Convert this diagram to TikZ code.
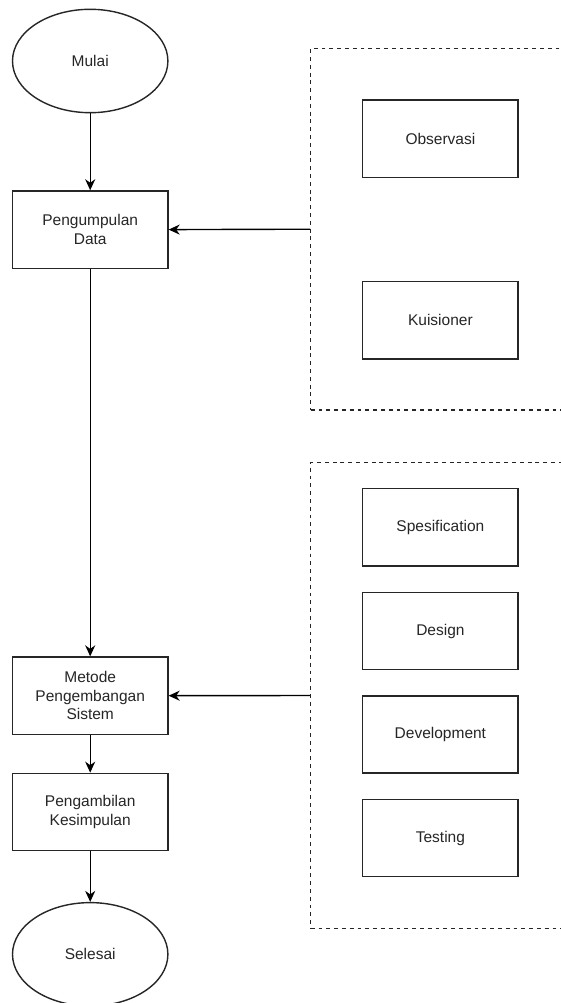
\documentclass[tikz,border=0pt]{standalone}
\usepackage{fontspec}
\setmainfont{Liberation Sans}
\usetikzlibrary{shapes.geometric,arrows.meta}
\begin{document}
\begin{tikzpicture}[x=1pt,y=-1pt,
  every node/.style={font=\fontsize{15.5}{18.6}\selectfont, text=black!85, align=center, inner sep=0pt},
  proc/.style={draw=black!85, line width=1.4pt, rectangle, minimum width=155.5pt, minimum height=77.3pt},
  term/.style={draw=black!85, line width=1.4pt, ellipse, minimum width=155.4pt, minimum height=103.4pt},
  grp/.style={draw=black!85, line width=1.4pt, rectangle, dash pattern=on 3.9pt off 3.9pt, minimum width=259.4pt},
  conn/.style={draw=black, line width=1.4pt, -{Stealth[length=11pt,width=10pt,inset=3.5pt]}}
]
\useasboundingbox (0,0) rectangle (560,1003);
\fill[white] (0,0) rectangle (560,1003);

\node[term] (mulai) at (90.2,61) {Mulai};
\node[proc] (pd) at (90.2,229.6) {Pengumpulan\\Data};
\node[proc] (mps) at (90.2,695.7) {Metode\\Pengembangan\\Sistem};
\node[proc] (pk) at (90.2,812) {Pengambilan\\Kesimpulan};
\node[term] (sel) at (90.2,954.3) {Selesai};

\node[grp, minimum height=361.7pt] (g1) at (440.4,229.2) {};
\node[grp, minimum height=466.4pt] (g2) at (440.4,695.5) {};

\node[proc] (obs) at (440.4,138.8) {Observasi};
\node[proc] (kui) at (440.4,320.2) {Kuisioner};
\node[proc] (spe) at (440.4,527.4) {Spesification};
\node[proc] (des) at (440.4,631) {Design};
\node[proc] (dev) at (440.4,734.5) {Development};
\node[proc] (tes) at (440.4,838) {Testing};

\draw[conn] (mulai.south) -- (pd.north);
\draw[conn] (pd.south) -- (mps.north);
\draw[conn] (mps.south) -- (pk.north);
\draw[conn] (pk.south) -- (sel.north);
\draw[conn] (g1.west) -- (pd.east);
\draw[conn] (g2.west) -- (mps.east);
\end{tikzpicture}
\end{document}
